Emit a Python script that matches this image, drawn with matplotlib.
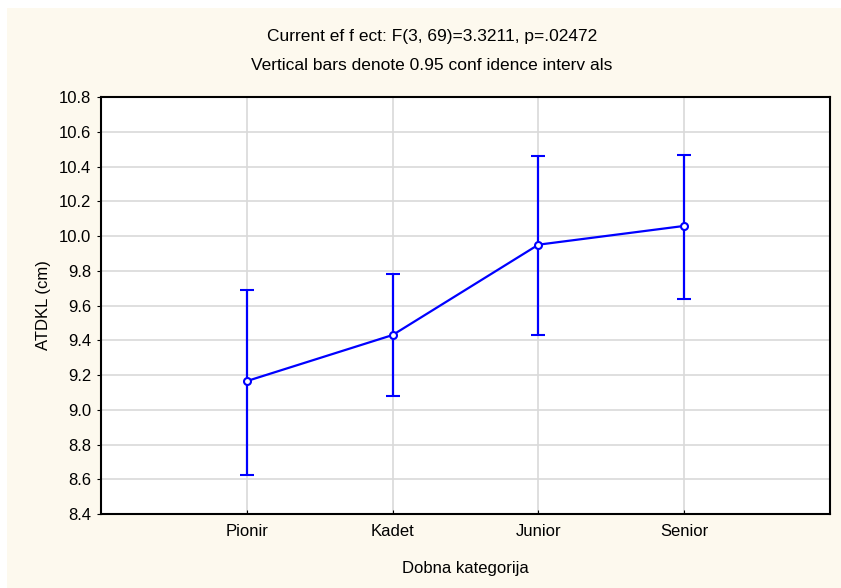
import matplotlib
matplotlib.use("Agg")
import matplotlib.pyplot as plt
from matplotlib.patches import Rectangle

plt.rcParams['font.family'] = ['Liberation Sans', 'DejaVu Sans']

# data
categories = ['Pionir', 'Kadet', 'Junior', 'Senior']
means = [9.165, 9.430, 9.950, 10.058]
ci_low = [8.624, 9.079, 9.430, 9.640]
ci_high = [9.692, 9.781, 10.460, 10.466]

yticks = [8.4, 8.6, 8.8, 9.0, 9.2, 9.4, 9.6, 9.8, 10.0, 10.2, 10.4, 10.6, 10.8]

cream = '#FDF9EE'
W, H = 841, 588

fig = plt.figure(figsize=(W / 100, H / 100), dpi=100, facecolor='white')
# cream panel, leaving a thin white strip at the top and left
fig.patches.append(Rectangle((7 / W, 0), 1, 1 - 8 / H, transform=fig.transFigure,
                             facecolor=cream, edgecolor='none', zorder=-10))

ax = fig.add_axes([101 / W, 74 / H, 729 / W, 417 / H])
ax.set_facecolor('white')

x = list(range(1, len(categories) + 1))
err_lo = [m - l for m, l in zip(means, ci_low)]
err_hi = [h - m for m, h in zip(means, ci_high)]

ax.errorbar(x, means, yerr=[err_lo, err_hi], color='#0000FF', lw=1.6,
            elinewidth=1.6, capsize=4.7, capthick=1.6, marker='o', markersize=5,
            markerfacecolor='white', markeredgecolor='#0000FF', markeredgewidth=1.5,
            zorder=3)

ax.set_xlim(0, 5)
ax.set_ylim(8.4, 10.8)
ax.set_xticks(x)
ax.set_xticklabels(categories)
ax.set_yticks(yticks)
ax.set_yticklabels([f'{v:.1f}' for v in yticks])

ax.grid(True, color='#D9D9D9', lw=1.2)
ax.set_axisbelow(True)
for s in ax.spines.values():
    s.set_linewidth(1.5)
    s.set_color('black')

ax.tick_params(axis='x', direction='in', length=3, labelsize=12, pad=7, colors='black')
ax.tick_params(axis='y', direction='out', length=3, labelsize=12, pad=4, colors='black')

ax.set_xlabel('Dobna kategorija', fontsize=12)
ax.set_ylabel('ATDKL (cm)', fontsize=12)
ax.xaxis.set_label_coords(0.5, (514 - 568) / 417)
ax.xaxis.label.set_va('center')
ax.yaxis.set_label_coords((44 - 101) / 729, 0.5)
ax.yaxis.label.set_va('center')

fig.text(432 / W, 1 - 37 / H, 'Current ef f ect: F(3, 69)=3.3211, p=.02472',
         ha='center', va='center', fontsize=12.5)
fig.text(432 / W, 1 - 66 / H, 'Vertical bars denote 0.95 conf idence interv als',
         ha='center', va='center', fontsize=12.5)

fig.savefig('out.png', dpi=100, facecolor=fig.get_facecolor())
